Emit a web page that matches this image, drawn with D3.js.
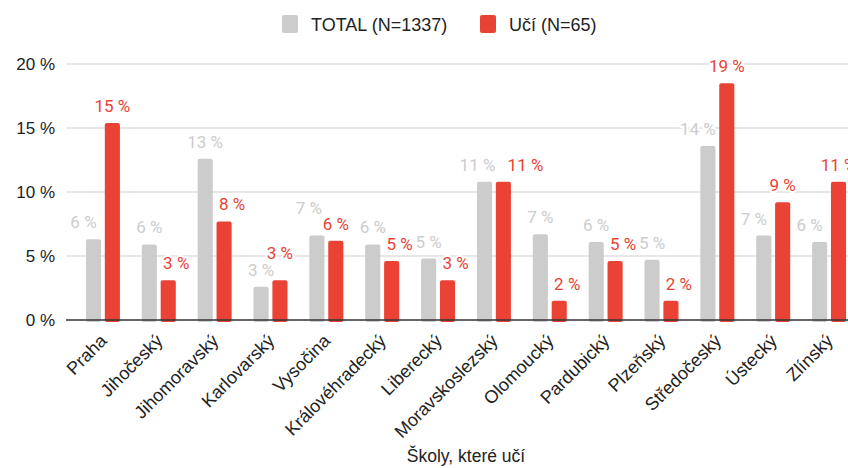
<!DOCTYPE html>
<html>
<head>
<meta charset="utf-8">
<script src="https://cdn.jsdelivr.net/npm/d3@7/dist/d3.min.js"></script>
<style>
  body { margin: 0; background: #fff; }
  svg { display: block; }
  text { font-family: 'Liberation Sans', Arial, sans-serif; fill: #222; }
  .val { font-family: Roboto, sans-serif; font-size: 17px; paint-order: stroke; stroke: #fff; stroke-width: 4px; stroke-linejoin: round; }
</style>
</head>
<body>
<div class="root"></div>
<script>
var regions = ['Praha', 'Jihočeský', 'Jihomoravský', 'Karlovarský', 'Vysočina', 'Královéhradecký', 'Liberecký',
  'Moravskoslezský', 'Olomoucký', 'Pardubický', 'Plzeňský', 'Středočeský', 'Ústecký', 'Zlínský'];
var totalVals = [6.3, 5.9, 12.6, 2.6, 6.6, 5.9, 4.8, 10.8, 6.7, 6.1, 4.7, 13.6, 6.6, 6.1];
var uciVals = [15.4, 3.1, 7.7, 3.1, 6.2, 4.6, 3.1, 10.8, 1.5, 4.6, 1.5, 18.5, 9.2, 10.8];
var seriesNames = ['TOTAL (N=1337)', 'Učí (N=65)'];
var yTicks = [0, 5, 10, 15, 20];
var xTitle = 'Školy, které učí';

function runChart() {
  var w = 848, h = 468;
  var colors = ['#cccccc', '#ea4335'];
  var plotLeft = 66, y0 = 320, yTop = 64;

  var svg = d3.select('.root').append('svg')
    .attr('width', w)
    .attr('height', h);

  var x = d3.scaleBand().domain(regions).range([75, 857]);
  var x1 = d3.scaleBand().domain([0, 1]).range([-17, 17]).paddingInner(0.2);
  var y = d3.scaleLinear().domain([0, 20]).range([y0, yTop]);

  // gridlines + y labels
  svg.append('g').selectAll('line')
    .data(yTicks.filter(function(t) { return t > 0; }))
    .enter().append('line')
      .attr('x1', plotLeft).attr('x2', w)
      .attr('y1', function(d) { return y(d); })
      .attr('y2', function(d) { return y(d); })
      .attr('stroke', '#cfcfcf')
      .attr('stroke-width', 1);

  svg.append('g').selectAll('text')
    .data(yTicks)
    .enter().append('text')
      .attr('x', 55)
      .attr('y', function(d) { return y(d) + 6; })
      .attr('text-anchor', 'end')
      .style('font-size', '17px')
      .text(function(d) { return d + ' %'; });

  // bars
  var rows = regions.map(function(r, i) { return {name: r, vals: [totalVals[i], uciVals[i]]}; });

  var groups = svg.append('g').selectAll('g')
    .data(rows)
    .enter().append('g')
      .attr('transform', function(d) { return 'translate(' + (x(d.name) + x.bandwidth() / 2) + ',0)'; });

  groups.selectAll('rect')
    .data(function(d) { return d.vals; })
    .enter().append('rect')
      .attr('x', function(d, i) { return x1(i); })
      .attr('y', function(d) { return y(d); })
      .attr('width', x1.bandwidth())
      .attr('height', function(d) { return y0 - y(d) + 2; })
      .attr('rx', 2)
      .attr('fill', function(d, i) { return colors[i]; });

  // axis line
  svg.append('line')
    .attr('x1', plotLeft).attr('x2', w)
    .attr('y1', y0).attr('y2', y0)
    .attr('stroke', '#333')
    .attr('stroke-width', 1.5);

  // value labels, nudged so they don't collide
  rows.forEach(function(d) {
    var cx = x(d.name) + x.bandwidth() / 2;
    var labs = d.vals.map(function(v, i) {
      var t = Math.round(v) + ' %';
      return {t: t, i: i, x: cx + x1(i) + x1.bandwidth() / 2, y: y(v) - 11, w: t.length * 9};
    });
    var g = labs[0], r = labs[1];
    if (y(d.vals[1]) < g.y) g.x -= 10;
    if (y(d.vals[0]) < r.y) r.x += 8;
    var overlapX = (g.x + g.w / 2) > (r.x - r.w / 2);
    var dy = Math.abs(g.y - r.y);
    if (overlapX && dy < 16) {
      if (dy < 3) {
        g.x -= 7;
        r.x = g.x + g.w / 2 + 12 + r.w / 2;
      } else if (d.vals[0] > d.vals[1]) {
        g.y = r.y - 16;
        g.x -= 8;
      } else {
        r.y = g.y - 17;
      }
    }
    svg.selectAll(null)
      .data(labs)
      .enter().append('text')
        .attr('class', 'val')
        .attr('x', function(l) { return l.x; })
        .attr('y', function(l) { return l.y; })
        .attr('text-anchor', 'middle')
        .style('fill', function(l) { return colors[l.i]; })
        .text(function(l) { return l.t; });
  });

  // category labels
  svg.append('g').selectAll('text')
    .data(regions)
    .enter().append('text')
      .attr('text-anchor', 'end')
      .attr('transform', function(d) {
        return 'translate(' + (x(d) + x.bandwidth() / 2 + 5) + ',342) rotate(-45)';
      })
      .style('font-size', '18px')
      .text(function(d) { return d; });

  svg.append('text')
    .attr('x', (x.range()[0] + x.range()[1]) / 2)
    .attr('y', 462)
    .attr('text-anchor', 'middle')
    .style('font-size', '17.5px')
    .text(xTitle);

  // legend
  var leg = svg.append('g').selectAll('g')
    .data(seriesNames)
    .enter().append('g')
      .attr('transform', function(d, i) { return 'translate(' + [282, 480][i] + ',0)'; });
  leg.append('rect')
    .attr('y', 15).attr('width', 16).attr('height', 18).attr('rx', 2)
    .attr('fill', function(d, i) { return colors[i]; });
  leg.append('text')
    .attr('x', 29).attr('y', 31)
    .style('font-size', '18px')
    .text(function(d) { return d; });
}

window.onload = function() {
  runChart();
}
</script>
</body>
</html>
